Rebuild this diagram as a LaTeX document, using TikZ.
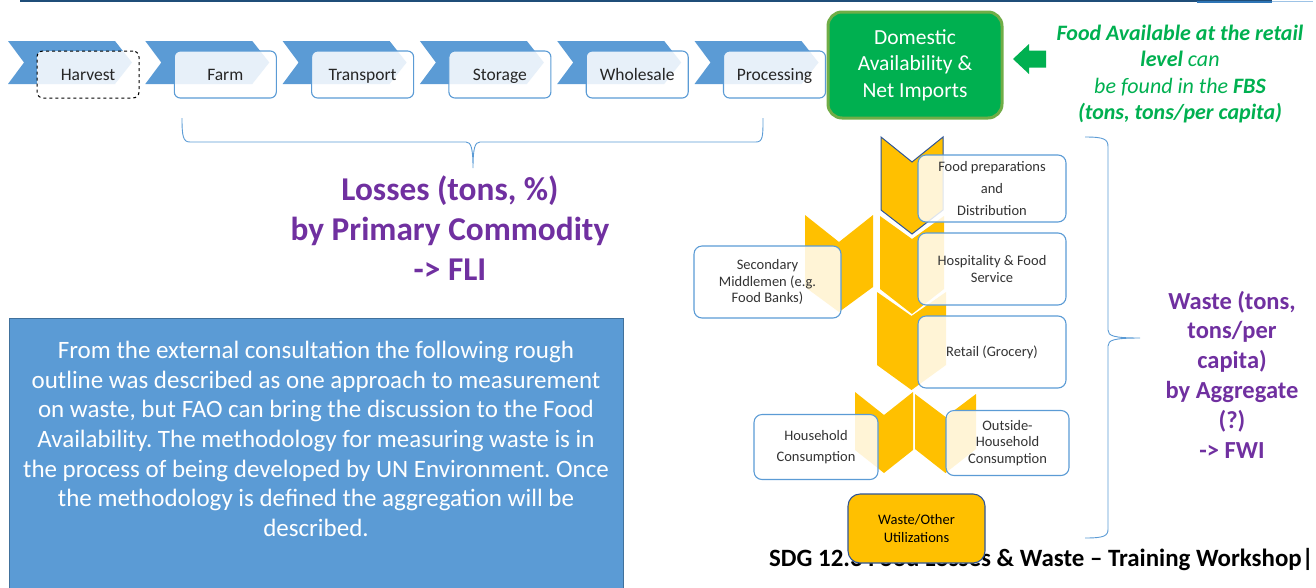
\documentclass[tikz,border=0pt]{standalone}
\usepackage{fontspec}
\setmainfont{Carlito}
\frenchspacing
\definecolor{chevblue}{HTML}{5B9BD5}
\definecolor{boxline}{HTML}{5B9BD5}
\definecolor{darkline}{HTML}{41719C}
\definecolor{topdark}{HTML}{1F4E79}
\definecolor{topmid}{HTML}{2E75B6}
\definecolor{toplight}{HTML}{9DC3E6}
\definecolor{fgreen}{HTML}{00B050}
\definecolor{gborder}{HTML}{70AD47}
\definecolor{gold}{HTML}{FFC000}
\definecolor{navy}{HTML}{2F5597}
\definecolor{purp}{HTML}{7030A0}
\tikzset{
  stagebox/.style={draw=boxline, line width=1.1pt, fill=white, fill opacity=0.86, text opacity=1,
    rounded corners=6pt, minimum width=102pt, minimum height=47pt, inner sep=0pt,
    text height=15.5pt, text depth=3.5pt,
    font=\fontsize{17.5}{21}\selectfont, text=black!85},
  rbox/.style={draw=boxline, line width=1.1pt, fill=white, fill opacity=0.84, text opacity=1,
    rounded corners=8pt, inner sep=0pt, align=center,
    font=\fontsize{14.5}{16.5}\selectfont, text=black!80},
  chevh/.style={fill=chevblue, draw=none},
  chevv/.style={fill=gold, draw=none},
  bracket/.style={draw=chevblue, line width=0.9pt},
}
\begin{document}
\begin{tikzpicture}[x=1pt,y=-1pt]
\useasboundingbox (0,0) rectangle (1316,587);
% top rule
\draw[topdark, line width=2.2pt] (20,1) -- (1272,1);
\draw[topmid, line width=1.6pt] (1197,2.2) -- (1272,2.2);
\draw[toplight, line width=1.6pt] (1272,1.5) -- (1313,1.5);

% horizontal chevrons and stage boxes
\foreach \i in {0,...,5}{
  \pgfmathsetmacro{\xo}{8+137.3*\i}
  \fill[chevh] (\xo,41) -- (\xo+107,41) -- (\xo+124,62.5) -- (\xo+107,84) -- (\xo,84) -- (\xo+16,62.5) -- cycle;
}
\node[stagebox, draw=black, dashed, line width=1pt] (harvest) at (88,74.5) {Harvest};
\node[stagebox] (farm) at (225.3,74.5) {Farm};
\node[stagebox] (transport) at (362.6,74.5) {Transport};
\node[stagebox] (storage) at (499.9,74.5) {Storage};
\node[stagebox] (wholesale) at (637.2,74.5) {Wholesale};
\node[stagebox] (processing) at (774.5,74.5) {Processing};

% green box
\node[draw=gborder, line width=3pt, fill=fgreen, rounded corners=14pt, minimum width=174pt, minimum height=106pt,
  inner sep=0pt, align=center, text=white, font=\fontsize{21.5}{26.5}\selectfont] (domestic) at (915,65)
  {Domestic\\Availability \&\\Net Imports};
% green arrow
\fill[fgreen] (1013,59) -- (1029,44) -- (1029,50.5) -- (1046,50.5) -- (1046,67.5) -- (1029,67.5) -- (1029,74) -- cycle;
\node[text=fgreen, align=center, font=\fontsize{22}{26.6}\selectfont\itshape] (fbs) at (1180,74)
  {\textbf{Food Available at the retail}\\\textbf{level} can\\be found in the \textbf{FBS}\\\textbf{(tons, tons/per capita)}};

% top brace
\draw[bracket] (182,118) .. controls (182,136) and (183,142) .. (190,142) -- (466,142)
  .. controls (471,142) and (473,148) .. (473,168)
  .. controls (473,148) and (475,142) .. (480,142) -- (756,142)
  .. controls (763,142) and (763,136) .. (763,118);
\node[text=purp, align=center, font=\fontsize{33.3}{40}\selectfont\bfseries] (losses) at (450,228)
  {Losses (tons, \%)\\by Primary Commodity\\-> FLI};

% info box
\node[draw=darkline, line width=1pt, fill=chevblue, minimum width=614pt, minimum height=275pt, inner sep=0pt,
  anchor=north west] (infobox) at (9,318) {};
\node[text=white, align=center, font=\fontsize{25}{29.7}\selectfont] (infotext) at (316,439)
  {From the external consultation the following rough\\
   outline was described as one approach to measurement\\
   on waste, but FAO can bring the discussion to the Food\\
   Availability. The methodology for measuring waste is in\\
   the process of being developed by UN Environment. Once\\
   the methodology is defined the aggregation will be\\
   described.};

% vertical chevrons
\fill[chevv] (805,215) -- (839,242) -- (873,215) -- (873,287) -- (839,312) -- (805,287) -- cycle;
\fill[chevv] (880,216) -- (912,239) -- (944,216) -- (944,289) -- (912,314) -- (880,289) -- cycle;
\fill[chevv] (877,292) -- (911.5,316) -- (946,292) -- (946,365) -- (911.5,390) -- (877,365) -- cycle;
\fill[chevv] (855,392) -- (884,415) -- (913,392) -- (913,450) -- (884,473) -- (855,450) -- cycle;
\fill[chevv] (915,394) -- (945.5,417) -- (976,394) -- (976,449) -- (945.5,473) -- (915,449) -- cycle;
\filldraw[fill=gold, draw=navy, line width=1pt] (881,137) -- (912,162) -- (943,137) -- (943,210) -- (912,234) -- (881,210) -- cycle;

% right boxes
\node[rbox, minimum width=148pt, minimum height=67pt, font=\fontsize{14.5}{22}\selectfont] (foodprep) at (992,188.5)
  {Food preparations\\and\\Distribution};
\node[rbox, minimum width=148pt, minimum height=72pt, text depth=0pt] (hospitality) at (992,269)
  {Hospitality \& Food\\Service};
\node[rbox, minimum width=148pt, minimum height=72pt] (retail) at (992,352)
  {Retail (Grocery)};
\node[rbox, minimum width=147pt, minimum height=72pt] (secondary) at (767.5,282)
  {Secondary\\Middlemen (e.g.\\Food Banks)};
\node[rbox, minimum width=124pt, minimum height=65pt, font=\fontsize{14.5}{21}\selectfont] (household) at (816,447)
  {Household\\Consumption};
\node[rbox, minimum width=123pt, minimum height=65pt] (outside) at (1007.5,443)
  {Outside-\\Household\\Consumption};

% right brace
\draw[bracket] (1085,137) .. controls (1104,137) and (1108,139) .. (1108,147) -- (1108,330)
  .. controls (1108,336) and (1114,338) .. (1140,338)
  .. controls (1114,338) and (1108,340) .. (1108,346) -- (1108,529)
  .. controls (1108,536) and (1104,538) .. (1085,538);
\node[text=purp, align=center, font=\fontsize{24.5}{29.8}\selectfont\bfseries] (wastelbl) at (1232,374.5)
  {Waste (tons,\\tons/per\\capita)\\by Aggregate\\(?)\\-> FWI};

% footer
\node[anchor=west, inner sep=0pt, font=\fontsize{24.9}{28}\selectfont\bfseries, text=black] (footer) at (769,560)
  {SDG 12.3 Food Losses \& Waste -- Training Workshop|};

% waste box
\node[draw=navy, line width=1.1pt, fill=gold, rounded corners=12pt, minimum width=137pt, minimum height=69pt,
  inner sep=0pt, align=center, font=\fontsize{14.5}{18}\selectfont, text=black] (wasteother) at (916.5,528.5)
  {Waste/Other\\Utilizations};
\end{tikzpicture}
\end{document}
